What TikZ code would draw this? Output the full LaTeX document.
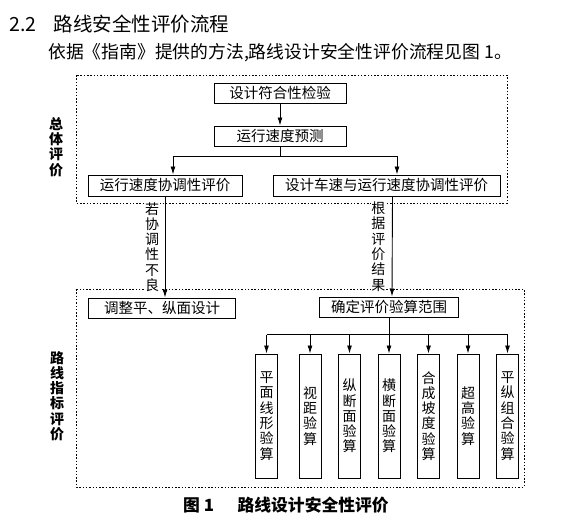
\documentclass[tikz,border=0pt]{standalone}
\usepackage{fontspec}
\setmainfont{Noto Sans CJK SC}
\usepackage{tikz}
\usetikzlibrary{arrows.meta,positioning,calc}
\newcommand{\boxfont}{\fontsize{14.5}{15}\selectfont}
\newcommand{\stackfont}{\fontsize{14}{15.3}\selectfont}
\tikzset{
  box/.style={draw,line width=1pt,align=center,minimum height=20pt,inner sep=0pt,font=\boxfont},
  tallbox/.style={box,minimum width=22pt,minimum height=124pt,font=\stackfont},
  frame/.style={draw,line width=0.9pt,dash pattern=on 1.5pt off 1.8pt},
  flow/.style={-{Latex[length=8pt,width=5pt]},line width=0.9pt},
  tie/.style={line width=0.9pt},
  edgelabel/.style={font=\stackfont,align=center,inner sep=0.5pt,fill=white},
  sidelabel/.style={font=\stackfont\bfseries,align=center,inner sep=0pt}
}

\begin{document}
\begin{tikzpicture}[x=1pt,y=-1pt]
  \useasboundingbox (0,0) rectangle (565,520);
  % heading
  \node[anchor=west,font=\fontsize{19.5}{20}\selectfont,inner sep=0pt] (title) at (9,24) {2.2\hspace{0.9em}路线安全性评价流程};
  \node[anchor=west,font=\fontsize{17.8}{18}\selectfont,inner sep=0pt] (intro) at (48,53) {依据《指南》提供的方法,路线设计安全性评价流程见图~1。};
  % frames
  \draw[frame] (76,75) rectangle (507,203);
  \draw[frame] (76,289) rectangle (524,487);
  \node[sidelabel] (overall) at (56,147) {总\\体\\评\\价};
  \node[sidelabel] (index) at (57,396) {路\\线\\指\\标\\评\\价};
  % overall evaluation
  \node[box,minimum width=132pt] (check) at (280,93) {设计符合性检验};
  \node[box,minimum width=132pt,below=22pt of check] (predict) {运行速度预测};
  \node[box,minimum width=154pt,minimum height=21pt] (harmony) at (165,185.5) {运行速度协调性评价};
  \node[box,minimum width=227pt,minimum height=21pt] (consist) at (386.5,185.5) {设计车速与运行速度协调性评价};
  % route index evaluation
  \node[box,minimum width=147pt] (adjust) at (162,308) {调整平、纵面设计};
  \node[box,minimum width=139pt] (range) at (389,307) {确定评价验算范围};
  \node[tallbox,below=36pt of range] (cross) {横\\断\\面\\验\\算};
  \node[tallbox,left=16.5pt of cross] (profile) {纵\\断\\面\\验\\算};
  \node[tallbox,left=16.5pt of profile] (sight) {视\\距\\验\\算};
  \node[tallbox,left=20.5pt of sight] (plane) {平\\面\\线\\形\\验\\算};
  \node[tallbox,right=16.5pt of cross] (grade) {合\\成\\坡\\度\\验\\算};
  \node[tallbox,right=16.5pt of grade] (superelev) {超\\高\\验\\算};
  \node[tallbox,right=16.5pt of superelev] (combine) {平\\纵\\组\\合\\验\\算};
  \coordinate (fork) at ($(predict.south)+(0,10)$);
  \coordinate (split) at ($(range.south)+(0,17)$);
  \draw[flow] (check) -- (predict);
  \draw[tie] (predict.south) -- (fork);
  \draw[flow] (fork) -| ($(harmony.north)+(8,0)$);
  \draw[flow] (fork) -| ($(consist.north)+(10.5,0)$);
  \draw[flow] (harmony.south) -- node[edgelabel,left=5pt]{若\\协\\调\\性\\不\\良} (harmony.south |- adjust.north);
  \draw[flow] ($(consist.south)+(6,0)$) -- node[edgelabel,left=6pt]{根\\据\\评\\价\\结\\果} ($(range.north)+(3,0)$);
  \draw[tie] (range.south) -- (split);
  \draw[tie] (split -| plane.north) -- (split -| combine.north);
  \draw[flow] (split -| plane.north) -- (plane.north);
  \draw[flow] (split -| sight.north) -- (sight.north);
  \draw[flow] (split -| profile.north) -- (profile.north);
  \draw[flow] (split -| cross.north) -- (cross.north);
  \draw[flow] (split -| grade.north) -- (grade.north);
  \draw[flow] (split -| superelev.north) -- (superelev.north);
  \draw[flow] (split -| combine.north) -- (combine.north);
  % caption
  \node[font=\fontsize{16.8}{17}\selectfont\bfseries,inner sep=0pt] (caption) at (286,505) {图~1\hspace{1.4em}路线设计安全性评价};
\end{tikzpicture}
\end{document}
